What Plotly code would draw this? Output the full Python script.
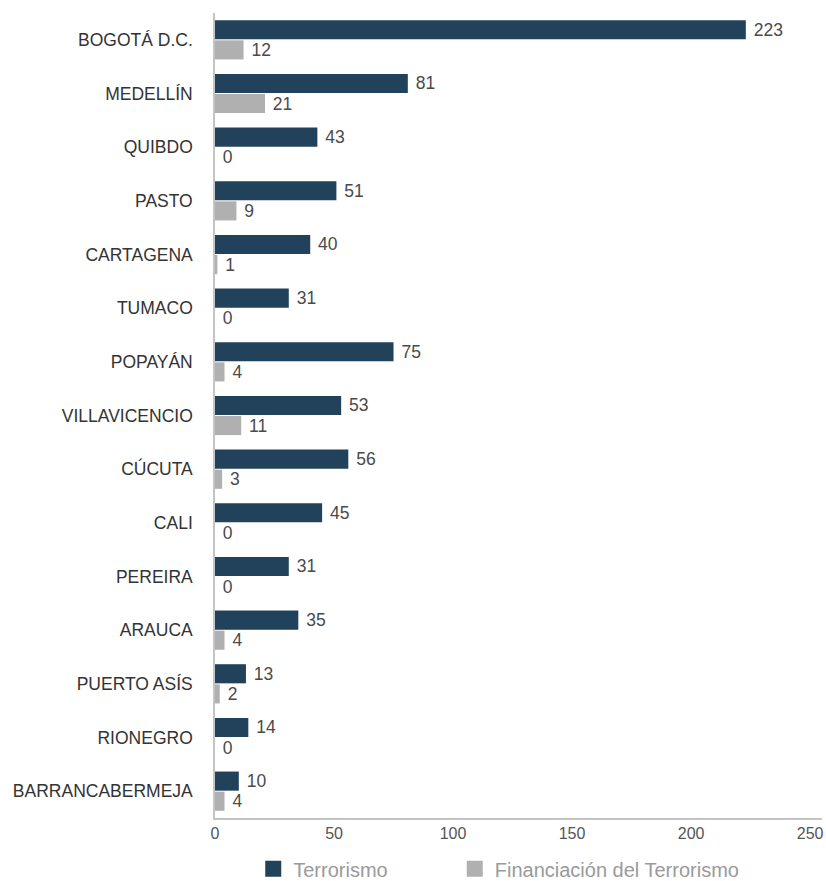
import plotly.graph_objects as go

ciudades = ["BOGOTÁ D.C.", "MEDELLÍN", "QUIBDO", "PASTO", "CARTAGENA", "TUMACO",
            "POPAYÁN", "VILLAVICENCIO", "CÚCUTA", "CALI", "PEREIRA", "ARAUCA",
            "PUERTO ASÍS", "RIONEGRO", "BARRANCABERMEJA"]
terrorismo = [223, 81, 43, 51, 40, 31, 75, 53, 56, 45, 31, 35, 13, 14, 10]
financiacion = [12, 21, 0, 9, 1, 0, 4, 11, 3, 0, 0, 4, 2, 0, 4]
x_ticks = [0, 50, 100, 150, 200, 250]

COLOR_T = "#21425a"
COLOR_F = "#b0b0b0"
FONT = "Liberation Sans"
label_font = dict(family=FONT, size=17.5, color="#4a4a4a")

fig = go.Figure()
fig.add_trace(go.Bar(
    y=ciudades, x=terrorismo, orientation="h", name="Terrorismo",
    marker=dict(color=COLOR_T, line=dict(width=0)),
    texttemplate=" %{x}", textposition="outside", textfont=label_font,
    cliponaxis=False, showlegend=False,
))
fig.add_trace(go.Bar(
    y=ciudades, x=financiacion, orientation="h", name="Financiación del Terrorismo",
    marker=dict(color=COLOR_F, line=dict(width=0)),
    texttemplate=" %{x}", textposition="outside", textfont=label_font,
    cliponaxis=False, showlegend=False,
))

# legend entries with larger square swatches, one legend box each
for name, color, leg in [("Terrorismo", COLOR_T, "legend"),
                         ("Financiación del Terrorismo", COLOR_F, "legend2")]:
    fig.add_trace(go.Scatter(
        x=[None], y=[None], mode="markers", name=name, legend=leg,
        marker=dict(symbol="square", size=18, color=color),
    ))

legend_style = dict(
    orientation="h", y=-0.063, xanchor="left", yanchor="middle",
    font=dict(family=FONT, size=20, color="#9a9a9a"),
    itemwidth=30, itemsizing="trace", bgcolor="rgba(0,0,0,0)",
)

fig.update_layout(
    width=826, height=881,
    margin=dict(l=215, r=4, t=13, b=63, autoexpand=False),
    paper_bgcolor="white", plot_bgcolor="white",
    barmode="group", bargap=0.25, bargroupgap=0.05,
    font=dict(family=FONT, size=17.5, color="#333333"),
    uniformtext=dict(minsize=17, mode="show"),
    legend=dict(x=0.063, **legend_style),
    legend2=dict(x=0.395, **legend_style),
    xaxis=dict(
        range=[0, 255], tickvals=x_ticks, showgrid=False, zeroline=False,
        showline=True, linecolor="#c4c4c4", linewidth=1.5,
        tickfont=dict(family=FONT, size=16, color="#555555"),
        ticks="", fixedrange=True,
    ),
    yaxis=dict(
        autorange="reversed", showgrid=False, zeroline=False,
        showline=True, linecolor="#c4c4c4", linewidth=1.5,
        ticks="", ticklabelstandoff=17,
        tickfont=dict(family=FONT, size=17.5, color="#333333"),
    ),
)

fig.write_html("out.html")
